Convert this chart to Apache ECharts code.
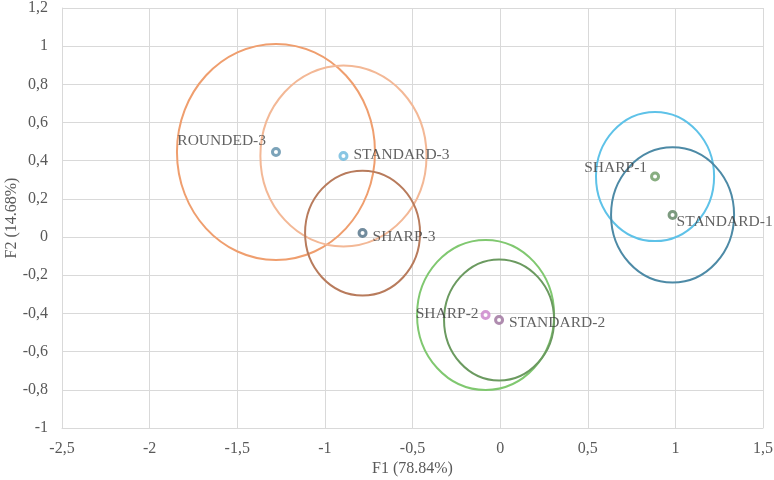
<!DOCTYPE html>
<html>
<head>
<meta charset="utf-8">
<script src="https://cdn.jsdelivr.net/npm/echarts@6/dist/echarts.min.js"></script>
<style>
html,body{margin:0;padding:0;background:#fff;}
#chart{width:774px;height:480px;}
</style>
</head>
<body>
<div id="chart"></div>
<script>
// ---- data ----
var names = ['ROUNDED-3', 'STANDARD-3', 'SHARP-3', 'SHARP-2', 'STANDARD-2', 'SHARP-1', 'STANDARD-1'];
var f1 = [-1.279, -0.894, -0.785, -0.083, -0.006, 0.884, 0.984];
var f2 = [0.446, 0.425, 0.021, -0.408, -0.434, 0.317, 0.116];
// confidence ellipse half-widths (F1) and half-heights (F2)
var ellRx = [0.565, 0.474, 0.328, 0.391, 0.314, 0.337, 0.351];
var ellRy = [0.566, 0.474, 0.327, 0.393, 0.317, 0.338, 0.354];
var xTicks = {min: -2.5, max: 1.5, interval: 0.5};
var yTicks = {min: -1, max: 1.2, interval: 0.2};

// ---- styles ----
var markerColors = ['#5b8ca8', '#6cb8dc', '#4e6e84', '#c97fc9', '#9b6f9b', '#6a9a62', '#5c8260'];
var ellipseColors = ['#ef9e6e', '#f3b896', '#b87b5c', '#80c870', '#6b9a60', '#5ec2e8', '#4d8aa6'];
var labelPos = ['left', 'right', 'right', 'left', 'right', 'left', 'right'];
var labelDist = [5, 5, 5, 2, 5, 3, -1];
var labelOff = [[0, -11], [0, -1], [0, 4], [0, -1], [0, 3], [0, -9], [0, 7]];

var FONT = '"Liberation Serif", "Times New Roman", serif';
function fmt(v) { return String(Math.round(v * 10) / 10).replace('.', ','); }

var ellData = names.map(function (n, i) { return [f1[i], f2[i], ellRx[i], ellRy[i], i]; });
var ptData = names.map(function (n, i) {
  return {
    name: n,
    value: [f1[i], f2[i]],
    itemStyle: {color: '#ffffff', borderColor: markerColors[i], borderWidth: 3},
    label: {position: labelPos[i], distance: labelDist[i], offset: labelOff[i]}
  };
});

var chart = echarts.init(document.getElementById('chart'), null, {renderer: 'canvas'});
chart.setOption({
  animation: false,
  backgroundColor: '#ffffff',
  grid: {left: 62, right: 11, top: 8, bottom: 52, containLabel: false, outerBoundsMode: 'none'},
  xAxis: {
    type: 'value', min: xTicks.min, max: xTicks.max, interval: xTicks.interval,
    name: 'F1 (78.84%)', nameLocation: 'middle', nameGap: 33, nameMoveOverlap: false,
    nameTextStyle: {fontFamily: FONT, fontSize: 16, color: '#595959'},
    axisLine: {show: true, onZero: false, lineStyle: {color: '#d9d9d9'}},
    axisTick: {show: false},
    axisLabel: {fontFamily: FONT, fontSize: 16, color: '#595959', margin: 13, formatter: fmt},
    splitLine: {show: true, lineStyle: {color: '#d9d9d9', width: 1}}
  },
  yAxis: {
    type: 'value', min: yTicks.min, max: yTicks.max, interval: yTicks.interval,
    name: 'F2 (14.68%)', nameLocation: 'middle', nameGap: 42, nameRotate: 90, nameMoveOverlap: false,
    nameTextStyle: {fontFamily: FONT, fontSize: 16, color: '#595959'},
    axisLine: {show: true, onZero: false, lineStyle: {color: '#d9d9d9'}},
    axisTick: {show: false},
    axisLabel: {fontFamily: FONT, fontSize: 16, color: '#595959', margin: 14, formatter: fmt},
    splitLine: {show: true, lineStyle: {color: '#d9d9d9', width: 1}}
  },
  series: [
    {
      type: 'custom',
      z: 2,
      silent: true,
      data: ellData,
      renderItem: function (params, api) {
        var c = api.coord([api.value(0), api.value(1)]);
        var s = api.size([api.value(2), api.value(3)]);
        var idx = api.value(4);
        return {
          type: 'ellipse',
          shape: {cx: c[0], cy: c[1], rx: s[0], ry: s[1]},
          style: {fill: 'none', stroke: ellipseColors[idx], lineWidth: 2}
        };
      }
    },
    {
      type: 'scatter',
      z: 3,
      symbol: 'circle',
      symbolSize: 7,
      data: ptData,
      label: {
        show: true,
        formatter: '{b}',
        fontFamily: FONT,
        fontSize: 15.5,
        color: '#3a3a3a'
      }
    }
  ]
});
</script>
</body>
</html>
